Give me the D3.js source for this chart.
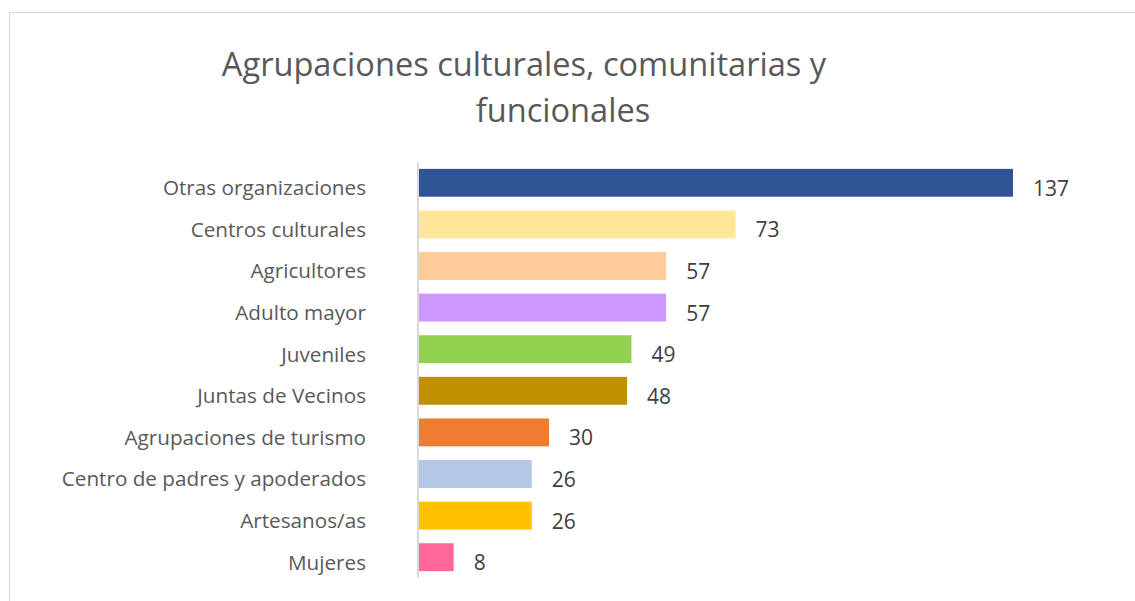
<!DOCTYPE html>
<html>
<head>
<meta charset="utf-8">
<script src="https://cdn.jsdelivr.net/npm/d3@7"></script>
<style>
  html, body { margin: 0; padding: 0; background: #fff; }
  svg { display: block; }
  text { font-family: "Open Sans", "Noto Sans", sans-serif; }
</style>
</head>
<body>
<svg id="chart" width="1135" height="601"></svg>
<script>
const titleLines = ["Agrupaciones culturales, comunitarias y", "funcionales"];
const categories = [
  "Otras organizaciones",
  "Centros culturales",
  "Agricultores",
  "Adulto mayor",
  "Juveniles",
  "Juntas de Vecinos",
  "Agrupaciones de turismo",
  "Centro de padres y apoderados",
  "Artesanos/as",
  "Mujeres"
];
const values = [137, 73, 57, 57, 49, 48, 30, 26, 26, 8];
const colors = ["#2F5597", "#FFE699", "#FFCC99", "#CC99FF", "#92D050",
                "#BF9000", "#ED7D31", "#B4C7E7", "#FFC000", "#FF6699"];

const svg = d3.select("#chart");

// outer frame (only top and left edges visible in the picture)
svg.append("rect")
  .attr("x", 9.5).attr("y", 12.5)
  .attr("width", 1300).attr("height", 800)
  .attr("fill", "none").attr("stroke", "#d9d9d9").attr("stroke-width", 1.2);

// title
const titleX = [524, 563];
svg.selectAll("text.title").data(titleLines).enter().append("text")
  .attr("class", "title")
  .attr("x", (d, i) => titleX[i])
  .attr("y", (d, i) => 76 + i * 46)
  .attr("text-anchor", "middle")
  .attr("font-size", 32.6)
  .attr("fill", "#595959")
  .text(d => d);

const x = d3.scaleLinear().domain([0, 137]).range([419, 1013]);
const y = d3.scaleBand().domain(categories).range([162, 578]).paddingInner(0.33).paddingOuter(0.165);

// bars
svg.selectAll("rect.bar").data(values).enter().append("rect")
  .attr("class", "bar")
  .attr("x", x(0))
  .attr("y", (d, i) => y(categories[i]))
  .attr("width", d => x(d) - x(0))
  .attr("height", y.bandwidth())
  .attr("fill", (d, i) => colors[i]);

// category axis
const yAxis = d3.axisLeft(y).tickSize(0).tickPadding(0);
const gy = svg.append("g").attr("transform", "translate(418,0)").call(yAxis);
gy.select(".domain").attr("stroke", "#d9d9d9").attr("stroke-width", 2)
  .attr("d", "M0,162V578");
gy.selectAll(".tick text")
  .attr("x", -52)
  .attr("dy", "0.6em")
  .attr("font-family", "'Open Sans', 'Noto Sans', sans-serif")
  .attr("font-size", 20.7)
  .attr("fill", "#595959")
  .attr("text-anchor", "end");

// value labels
svg.selectAll("text.val").data(values).enter().append("text")
  .attr("class", "val")
  .attr("x", d => x(d) + 20)
  .attr("y", (d, i) => y(categories[i]) + y.bandwidth() / 2 + 13)
  .attr("font-size", 21)
  .attr("fill", "#404040")
  .text(d => d);
</script>
</body>
</html>
